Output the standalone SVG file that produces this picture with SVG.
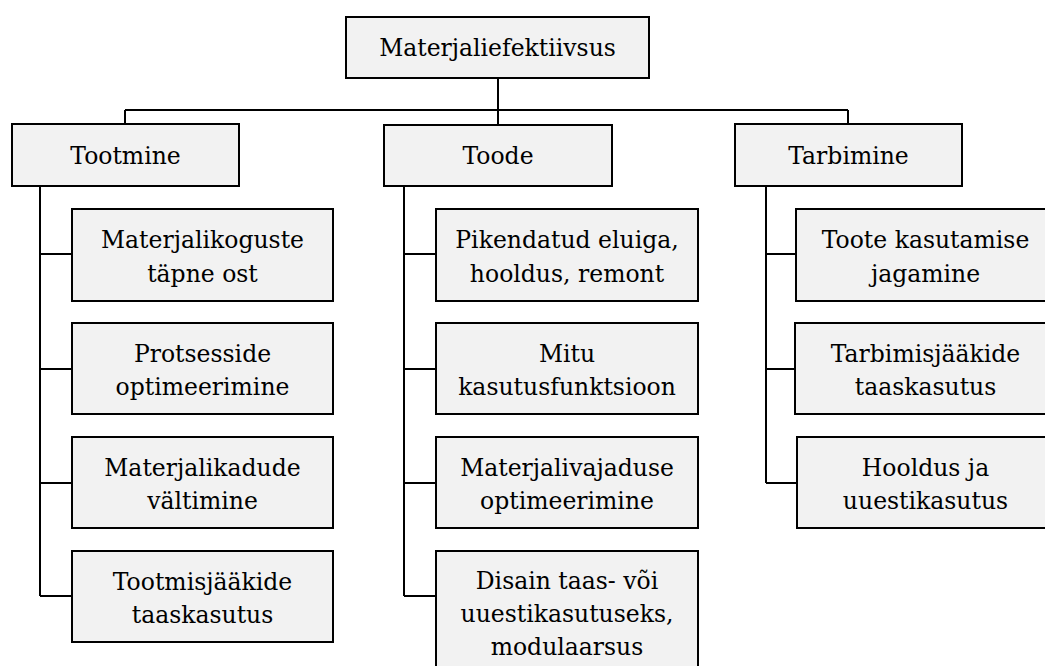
<svg xmlns="http://www.w3.org/2000/svg" width="1045" height="666" viewBox="0 0 1045 666">
<style>
.box{fill:#f2f2f2;stroke:#000;stroke-width:2}
.ln{fill:none;stroke:#000;stroke-width:2}
.t{font-family:'DejaVu Serif',serif;font-size:23.5px;fill:#000;text-anchor:middle}
</style>
<rect width="1045" height="666" fill="#fff"/>
<g id="connectors">
<path class="ln" d="M498 78V125M125 110H848M125 110V124M848 110V124"/>
<path class="ln" d="M40 186V596M40 254H72M40 369H72M40 483H72M40 596H72"/>
<path class="ln" d="M404 186V596M404 254H436M404 369H436M404 483H436M404 596H436"/>
<path class="ln" d="M766 186V483M766 254H796M766 369H796M766 483H796"/>
</g>
<g class="t">
<g id="root"><rect class="box" x="346" y="17" width="303" height="61"/><text x="497.5" y="56">Materjaliefektiivsus</text></g>
<g id="tootmine"><rect class="box" x="12" y="124" width="227" height="62"/><text x="125.5" y="164">Tootmine</text></g>
<g id="toode"><rect class="box" x="384" y="125" width="228" height="61"/><text x="498" y="164">Toode</text></g>
<g id="tarbimine"><rect class="box" x="735" y="124" width="227" height="62"/><text x="848.5" y="164">Tarbimine</text></g>
<g id="t1"><rect class="box" x="72" y="209" width="261" height="92"/><text x="202.5" y="248">Materjalikoguste</text><text x="202.5" y="282">täpne ost</text></g>
<g id="t2"><rect class="box" x="72" y="323" width="261" height="91"/><text x="202.5" y="362">Protsesside</text><text x="202.5" y="395">optimeerimine</text></g>
<g id="t3"><rect class="box" x="72" y="437" width="261" height="91"/><text x="202.5" y="476">Materjalikadude</text><text x="202.5" y="509">vältimine</text></g>
<g id="t4"><rect class="box" x="72" y="551" width="261" height="91"/><text x="202.5" y="590">Tootmisjääkide</text><text x="202.5" y="623">taaskasutus</text></g>
<g id="p1"><rect class="box" x="436" y="209" width="262" height="92"/><text x="567" y="248">Pikendatud eluiga,</text><text x="567" y="282">hooldus, remont</text></g>
<g id="p2"><rect class="box" x="436" y="323" width="262" height="91"/><text x="567" y="362">Mitu</text><text x="567" y="395">kasutusfunktsioon</text></g>
<g id="p3"><rect class="box" x="436" y="437" width="262" height="91"/><text x="567" y="476">Materjalivajaduse</text><text x="567" y="509">optimeerimine</text></g>
<g id="p4"><rect class="box" x="436" y="551" width="262" height="130"/><text x="567" y="589">Disain taas- või</text><text x="567" y="622">uuestikasutuseks,</text><text x="567" y="655">modulaarsus</text></g>
<g id="c1"><rect class="box" x="796" y="209" width="260" height="92"/><text x="925.5" y="248">Toote kasutamise</text><text x="925.5" y="282">jagamine</text></g>
<g id="c2"><rect class="box" x="795" y="323" width="261" height="91"/><text x="925.5" y="362">Tarbimisjääkide</text><text x="925.5" y="395">taaskasutus</text></g>
<g id="c3"><rect class="box" x="797" y="437" width="259" height="91"/><text x="925.5" y="476">Hooldus ja</text><text x="925.5" y="509">uuestikasutus</text></g>
</g>
</svg>
